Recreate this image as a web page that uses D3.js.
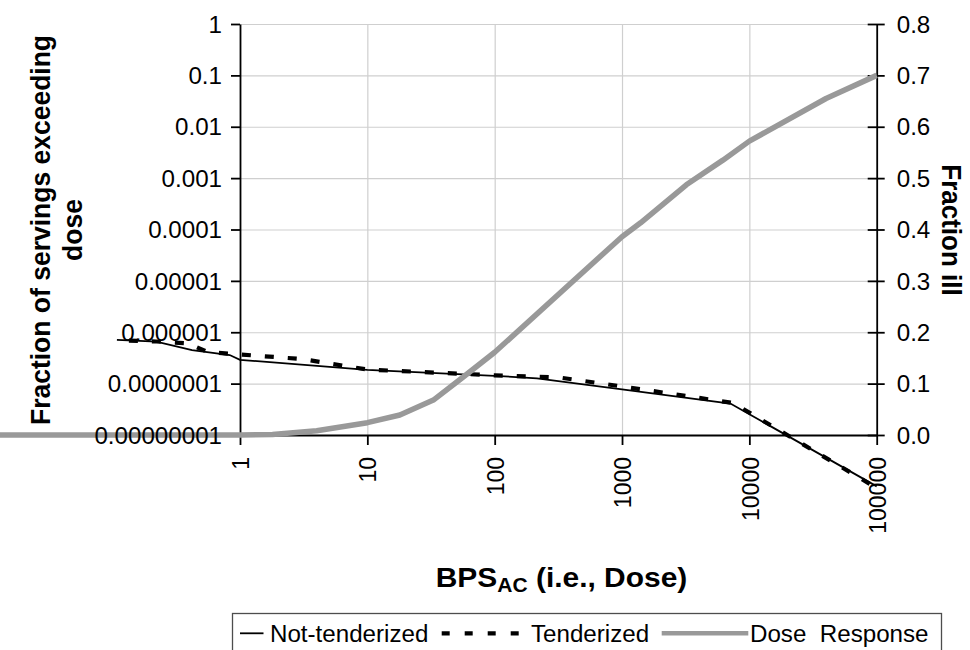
<!DOCTYPE html>
<html><head><meta charset="utf-8">
<script src="https://cdn.jsdelivr.net/npm/d3@7"></script>
<style>
html,body{margin:0;padding:0;background:#fff;}
svg{display:block;font-family:"Liberation Sans",Arial,Helvetica,sans-serif;}
</style></head><body>
<svg id="chart" width="970" height="650"></svg>
<script>
// ---- tick values / labels ----
const doseTicks = [1, 10, 100, 1000, 10000, 100000];
const doseTickLabels = ["1", "10", "100", "1000", "10000", "100000"];
const fracTicks = [1, 0.1, 0.01, 0.001, 0.0001, 0.00001, 0.000001, 0.0000001, 0.00000001];
const fracTickLabels = ["1", "0.1", "0.01", "0.001", "0.0001", "0.00001", "0.000001", "0.0000001", "0.00000001"];
const illTicks = [0, 0.1, 0.2, 0.3, 0.4, 0.5, 0.6, 0.7, 0.8];
const illTickLabels = ["0.0", "0.1", "0.2", "0.3", "0.4", "0.5", "0.6", "0.7", "0.8"];

// ---- series ----
const seriesNames = ["Not-tenderized", "Tenderized", "Dose  Response"];
const notTenderDose = [0.108, 0.22, 0.42, 0.83, 1, 10, 100, 215, 1000, 7100, 100000];
const notTenderFrac = [7.1e-7, 6.6e-7, 4.5e-7, 3.6e-7, 2.9e-7, 1.85e-7, 1.42e-7, 1.27e-7, 7.7e-8, 4.1e-8, 1e-9];
const tenderDose = [0.108, 0.22, 0.39, 0.56, 1, 3.1, 10, 100, 325, 1000, 7450, 100000];
const tenderFrac = [7.0e-7, 6.6e-7, 6.1e-7, 4.1e-7, 3.7e-7, 3.0e-7, 1.88e-7, 1.45e-7, 1.31e-7, 8.8e-8, 4.2e-8, 9.3e-10];
const doseRespDose = [0.01, 1, 1.8, 4, 10, 18, 33, 56, 100, 1000, 1400, 3200, 6200, 10000, 40000, 100000];
const doseRespIll = [0, 0, 0.001, 0.0084, 0.024, 0.039, 0.068, 0.112, 0.161, 0.386, 0.413, 0.487, 0.535, 0.572, 0.655, 0.70];

const SX = 1.05; // slight horizontal glyph stretch seen in the reference
const svg = d3.select("#chart");
const L = 240, R = 876.7, T = 24, B = 435;

const x = d3.scaleLog().domain([1, 100000]).range([L, R]);
const yL = d3.scaleLog().domain([1e-8, 1]).range([B, T]);
const yR = d3.scaleLinear().domain([0, 0.8]).range([B, T]);

// ---- gridlines ----
const grid = svg.append("g");
grid.append("g").attr("transform", `translate(${L},0)`)
  .call(d3.axisLeft(yL).tickValues(fracTicks.slice(0, 8)).tickSize(-(R - L)).tickFormat(""))
  .call(g => g.select(".domain").remove())
  .call(g => g.selectAll("line").attr("stroke", "#cfcfcf").attr("stroke-width", 1.2));
grid.append("g").attr("transform", `translate(0,${B})`)
  .call(d3.axisBottom(x).tickValues([10, 100, 1000, 10000]).tickSize(-(B - T)).tickFormat(""))
  .call(g => g.select(".domain").remove())
  .call(g => g.selectAll("line").attr("stroke", "#cfcfcf").attr("stroke-width", 1.2));

// ---- axis lines & ticks ----
const axes = svg.append("g").attr("color", "#000");
function styleAxis(g) {
  g.selectAll("line").attr("stroke-width", 1.8);
  g.select(".domain").attr("stroke-width", 1.8);
}
axes.append("g").attr("transform", `translate(${L},0)`)
  .call(d3.axisLeft(yL).tickValues(fracTicks).tickSize(9).tickSizeOuter(0).tickFormat(""))
  .call(styleAxis);
axes.append("g").attr("transform", `translate(${R},0)`)
  .call(d3.axisRight(yR).tickValues(illTicks).tickSize(8).tickSizeOuter(0).tickFormat(""))
  .call(styleAxis)
  .call(g => g.selectAll(".tick line").attr("x1", -9));
axes.append("g").attr("transform", `translate(0,${B})`)
  .call(d3.axisBottom(x).tickValues(doseTicks).tickSize(10).tickSizeOuter(0).tickFormat(""))
  .call(styleAxis);

// ---- data lines ----
const lineLog = d3.line().x(d => x(d[0])).y(d => yL(d[1]));
const lineLin = d3.line().x(d => x(d[0])).y(d => yR(d[1]));
const data = svg.append("g").attr("fill", "none");
data.append("path")
  .attr("d", lineLog(notTenderDose.map((d, i) => [d, notTenderFrac[i]])))
  .attr("stroke", "#000").attr("stroke-width", 1.8);
data.append("path")
  .attr("d", lineLog(tenderDose.map((d, i) => [d, tenderFrac[i]])))
  .attr("stroke", "#000").attr("stroke-width", 4.2).attr("stroke-dasharray", "9,14")
  .attr("stroke-dashoffset", -12);
data.append("path")
  .attr("d", lineLin(doseRespDose.map((d, i) => [d, doseRespIll[i]])))
  .attr("stroke", "#999999").attr("stroke-width", 5.5).attr("stroke-linejoin", "round");

// ---- tick labels (drawn on top) ----
const FS = 23;
const labels = svg.append("g").attr("color", "#000");
labels.append("g").attr("transform", `translate(${L},0)`)
  .call(d3.axisLeft(yL).tickValues(fracTicks).tickFormat((d, i) => fracTickLabels[i]))
  .call(g => { g.select(".domain").remove(); g.selectAll("line").remove(); })
  .call(g => g.selectAll("text")
    .attr("x", null).attr("dy", null).attr("text-anchor", "end")
    .attr("font-size", FS).attr("font-family", null)
    .attr("transform", `translate(-18,8.2) scale(${SX},1)`));
labels.append("g").attr("transform", `translate(${R},0)`)
  .call(d3.axisRight(yR).tickValues(illTicks).tickFormat((d, i) => illTickLabels[i]))
  .call(g => { g.select(".domain").remove(); g.selectAll("line").remove(); })
  .call(g => g.selectAll("text")
    .attr("x", null).attr("dy", null).attr("text-anchor", "start")
    .attr("font-size", FS).attr("font-family", null)
    .attr("transform", `translate(20,8.2) scale(${SX},1)`));
labels.append("g").attr("transform", `translate(0,${B})`)
  .call(d3.axisBottom(x).tickValues(doseTicks).tickFormat((d, i) => doseTickLabels[i]))
  .call(g => { g.select(".domain").remove(); g.selectAll("line").remove(); })
  .call(g => g.selectAll("text")
    .attr("x", null).attr("y", null).attr("dy", "0.358em").attr("text-anchor", "end")
    .attr("font-size", FS).attr("font-family", null)
    .attr("transform", `translate(0,22) scale(${SX},1) rotate(-90)`));

// ---- axis titles ----
const titles = svg.append("g").attr("font-weight", "bold").attr("fill", "#000");
titles.append("text").attr("text-anchor", "middle").attr("font-size", 26.5)
  .attr("transform", `translate(50,230) scale(${SX},1) rotate(-90)`)
  .text("Fraction of servings exceeding");
titles.append("text").attr("text-anchor", "middle").attr("font-size", 26.5)
  .attr("transform", `translate(82,230) scale(${SX},1) rotate(-90)`)
  .text("dose");
titles.append("text").attr("text-anchor", "middle").attr("font-size", 26)
  .attr("transform", `translate(942,230) scale(${SX},1) rotate(90)`)
  .text("Fraction ill");
const xt = titles.append("text").attr("text-anchor", "middle").attr("font-size", 28.5)
  .attr("transform", `translate(561.5,586.7) scale(${SX},1)`);
xt.append("tspan").text("BPS");
xt.append("tspan").attr("font-size", 20).attr("dy", 5).text("AC");
xt.append("tspan").attr("dy", -5).text(" (i.e., Dose)");

// ---- legend ----
const lg = svg.append("g");
lg.append("rect").attr("x", 232.5).attr("y", 613.5).attr("width", 709).attr("height", 60)
  .attr("fill", "none").attr("stroke", "#4d4d4d").attr("stroke-width", 1.3);
const ly = 633.3, lb = 641.7;
lg.append("line").attr("x1", 240).attr("x2", 263.5).attr("y1", ly).attr("y2", ly)
  .attr("stroke", "#000").attr("stroke-width", 1.8);
lg.append("line").attr("x1", 441.7).attr("x2", 520).attr("y1", ly).attr("y2", ly)
  .attr("stroke", "#000").attr("stroke-width", 4.2).attr("stroke-dasharray", "8,15");
lg.append("line").attr("x1", 661.7).attr("x2", 748.3).attr("y1", ly).attr("y2", ly)
  .attr("stroke", "#999999").attr("stroke-width", 4.5);
const legX = [270, 531, 750];
seriesNames.forEach((s, i) => {
  lg.append("text").attr("font-size", FS).attr("text-anchor", "start")
    .style("white-space", "pre")
    .attr("transform", `translate(${legX[i]},${lb}) scale(${SX},1)`)
    .text(s);
});
</script>
</body></html>
